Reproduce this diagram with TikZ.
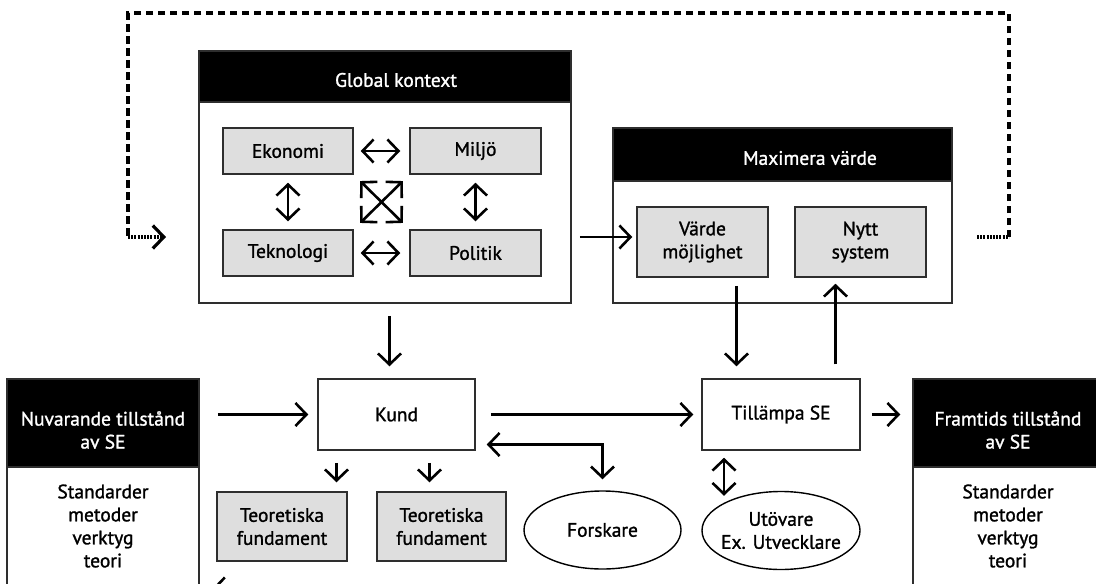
\documentclass[tikz,border=0pt]{standalone}
\usepackage{fontspec}
\setmainfont{PT Sans}[FakeBold=1.3]
\usetikzlibrary{arrows.meta,shapes.geometric,calc}
\definecolor{boxgray}{HTML}{DEDEDE}
\definecolor{edge}{HTML}{2E2E2E}
\begin{document}
\begin{tikzpicture}[x=1pt,y=-1pt,
  every node/.style={font=\fontsize{19.5}{23}\selectfont, inner sep=0pt},
  frame/.style={draw=edge, line width=1.5pt, fill=white, rectangle},
  header/.style={fill=black, draw=edge, line width=1.5pt, rectangle},
  title/.style={text=white, align=center},
  plain/.style={align=center},
  factor/.style={draw=edge, line width=1.5pt, fill=boxgray, rectangle, align=center},
  stage/.style={draw=edge, line width=1.5pt, fill=white, rectangle, align=center},
  actor/.style={draw=black, line width=1.4pt, ellipse, align=center, inner xsep=-8pt},
  chev/.tip={Straight Barb[length=11pt,width=23pt]},
  arr/.style={line width=2.6pt, -chev},
  dbl/.style={line width=2.6pt, chev-chev},
  loopline/.style={line width=3.2pt, dash pattern=on 7.5pt off 4.5pt},
  dots/.style={line width=3.2pt, dash pattern=on 2pt off 1.2pt},
]
\useasboundingbox (0,0) rectangle (1096,584);

% ---- Global context panel ----
\node[frame, minimum width=372pt, minimum height=252pt] (gk) at (385,177) {};
\node[header, minimum width=372pt, minimum height=51pt] (gkh) at (385,76.5) {};
\node[title] (gkt) at (396,80) {Global kontext};
\node[factor, minimum width=130pt, minimum height=46pt] (eko) at (288,151) {Ekonomi};
\node[factor, minimum width=131pt, minimum height=46pt] (mil) at (475.5,151) {Miljö};
\node[factor, minimum width=130pt, minimum height=46pt] (tek) at (288,253) {Teknologi};
\node[factor, minimum width=131pt, minimum height=46pt] (pol) at (475.5,253) {Politik};

\draw[dbl, shorten <=7pt, shorten >=9pt] (eko) -- (mil);
\draw[dbl, shorten <=7pt, shorten >=9pt] (tek) -- (pol);
\draw[dbl, shorten <=8pt, shorten >=8pt] (eko) -- (tek);
\draw[dbl, shorten <=8pt, shorten >=8pt] (mil) -- (pol);
\draw[dbl, shorten <=9pt, shorten >=9pt] (eko.south east) -- (pol.north west);
\draw[dbl, shorten <=9pt, shorten >=9pt] (mil.south west) -- (tek.north east);

% ---- Value panel ----
\node[frame, minimum width=339pt, minimum height=175pt] (mv) at (782.5,215.5) {};
\node[header, minimum width=339pt, minimum height=53pt] (mvh) at (782.5,154.5) {};
\node[title] (mvt) at (810,158) {Maximera värde};
\node[factor, minimum width=131pt, minimum height=70pt] (vm) at (702.5,242) {Värde\\möjlighet};
\node[factor, minimum width=131pt, minimum height=70pt] (ns) at (860.5,242) {Nytt\\system};

% ---- Current state ----
\node[frame, minimum width=192pt, minimum height=231pt] (nuv) at (103,494.5) {};
\node[header, minimum width=192pt, minimum height=88pt] (nuvh) at (103,423) {};
\node[title] (nuvt) at (103,430) {Nuvarande tillstånd\\av SE};
\node[plain] (nuvb) at (103,526) {Standarder\\metoder\\verktyg\\teori};

% ---- Future state ----
\node[frame, minimum width=190pt, minimum height=231pt] (fra) at (1008,494.5) {};
\node[header, minimum width=190pt, minimum height=88pt] (frah) at (1008,423) {};
\node[title] (frat) at (1008,430) {Framtids tillstånd\\av SE};
\node[plain] (frab) at (1008,526) {Standarder\\metoder\\verktyg\\teori};

% ---- Process ----
\node[stage, minimum width=157pt, minimum height=71pt] (kund) at (396.5,414.5) {Kund};
\node[stage, minimum width=158pt, minimum height=71pt] (til) at (781,414.5) {Tillämpa SE};
\node[factor, minimum width=130pt, minimum height=69pt] (teo1) at (282,526.5) {Teoretiska\\fundament};
\node[factor, minimum width=129pt, minimum height=69pt] (teo2) at (441.5,526.5) {Teoretiska\\fundament};
\node[actor, minimum width=157pt, minimum height=78pt] (fo) at (602.5,530) {Forskare};
\node[actor, minimum width=158pt, minimum height=78pt] (ut) at (781,530.5) {Utövare\\Ex. Utvecklare};

% ---- Connectors ----
\draw[arr, shorten <=8pt] ([yshift=5pt]vm.west -| gk.east) -- ([yshift=5pt,xshift=-4pt]vm.west);
\draw[arr, shorten <=12pt, shorten >=12pt] ([xshift=-7pt]kund.north |- gk.south) -- ([xshift=-7pt]kund.north);
\draw[arr, shorten <=8pt, shorten >=12pt] ([xshift=34pt]vm.south) -- ([xshift=34pt]vm.south |- til.north);
\draw[arr, shorten <=14pt, shorten >=6pt] ([xshift=-25pt]ns.south |- til.north) -- ([xshift=-25pt]ns.south);
\draw[arr, shorten <=18pt, shorten >=9pt] (kund.west -| nuvh.east) -- (kund.west);
\draw[arr, shorten <=15pt, shorten >=8pt] (kund.east) -- (til.west);
\draw[arr, shorten <=11pt, shorten >=12pt] (til.east) -- (til.east -| frah.west);
\draw[dbl, shorten <=11pt, shorten >=11pt] ([yshift=-30pt]kund.east) -| (fo.north);
\draw[arr, shorten <=12pt, shorten >=9pt] ([xshift=-60pt]kund.south) -- ([xshift=-60pt]kund.south |- teo1.north);
\draw[arr, shorten <=12pt, shorten >=9pt] ([xshift=33pt]kund.south) -- ([xshift=33pt]kund.south |- teo2.north);
\draw[dbl] ([xshift=-57pt,yshift=-7pt]til.south) -- ([xshift=-57pt,yshift=-45pt]til.south);

% return arrow towards the current state, running below the frame
\coordinate (backStart) at (282,589);
\coordinate (backEnd) at (212,589);
\draw[arr] (backStart) -- (backEnd);

% ---- Feedback loop ----
\coordinate (cR) at (1009,237);
\coordinate (cL) at (128,237);
\coordinate (loopR) at (977,237);
\coordinate (loopL) at (166,237);
\draw[loopline] (cR) -- (cR |- 0,13) -- (cL |- 0,13) -- (cL);
\draw[dots] (loopR) -- (cR);
\draw[dots, -chev] (cL) -- (loopL);
\end{tikzpicture}
\end{document}
